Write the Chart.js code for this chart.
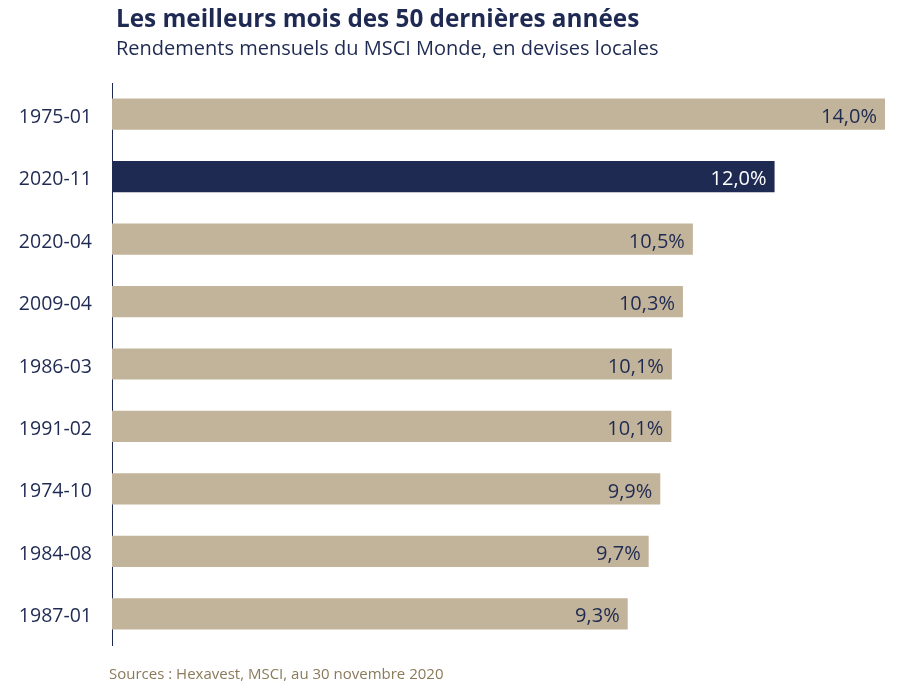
<!DOCTYPE html>
<html><head><meta charset="utf-8">
<script src="https://cdn.jsdelivr.net/npm/chart.js@4"></script>
<style>html,body{margin:0;padding:0;background:#fff}#wrap{width:899px;height:688px;position:relative}</style>
</head><body><div id="wrap"><canvas id="c" width="899" height="688"></canvas></div>
<script>
const categories = ["1975-01","2020-11","2020-04","2009-04","1986-03","1991-02","1974-10","1984-08","1987-01"];
const values = [14.0, 12.0, 10.52, 10.34, 10.14, 10.13, 9.93, 9.72, 9.34];
const barColors = ["#c2b49a","#1f2a52","#c2b49a","#c2b49a","#c2b49a","#c2b49a","#c2b49a","#c2b49a","#c2b49a"];
const labelColors = ["#1f2a52","#ffffff","#1f2a52","#1f2a52","#1f2a52","#1f2a52","#1f2a52","#1f2a52","#1f2a52"];
const titleText = "Les meilleurs mois des 50 dernières années";
const subtitleText = "Rendements mensuels du MSCI Monde, en devises locales";
const sourceText = "Sources : Hexavest, MSCI, au 30 novembre 2020";
const NAVY = "#1f2a52";
const FONT = "'Open Sans', sans-serif";

const deco = {
  id: 'deco',
  afterDraw(chart) {
    const ctx = chart.ctx;
    ctx.save();
    ctx.textBaseline = 'alphabetic';
    ctx.textAlign = 'left';
    ctx.fillStyle = NAVY;
    ctx.font = "bold 24.3px " + FONT;
    ctx.fillText(titleText, 116, 27);
    ctx.font = "20px " + FONT;
    ctx.fillText(subtitleText, 116, 55);
    ctx.fillStyle = "#8b7a5a";
    ctx.font = "15px " + FONT;
    ctx.fillText(sourceText, 109, 679);
    const meta = chart.getDatasetMeta(0);
    ctx.font = "20px " + FONT;
    ctx.textAlign = 'right';
    ctx.textBaseline = 'middle';
    meta.data.forEach((bar, i) => {
      ctx.fillStyle = labelColors[i];
      const txt = values[i].toFixed(1).replace('.', ',') + '%';
      ctx.fillText(txt, bar.x - 8, bar.y + 3);
    });
    ctx.restore();
  }
};

new Chart(document.getElementById('c'), {
  type: 'bar',
  data: {
    labels: categories,
    datasets: [{ data: values, backgroundColor: barColors, categoryPercentage: 1, barPercentage: 0.5, borderWidth: 0 }]
  },
  options: {
    indexAxis: 'y',
    responsive: false,
    animation: false,
    layout: { padding: { top: 83, bottom: 43, left: 0, right: 14 } },
    plugins: { legend: { display: false }, tooltip: { enabled: false } },
    scales: {
      x: { display: false, min: 0, max: 14.0 },
      y: {
        grid: { display: false },
        border: { display: true, color: NAVY, width: 1 },
        ticks: { color: NAVY, font: { family: FONT, size: 19.5 }, padding: 12, labelOffset: 3 },
        afterFit(scale) { scale.width = 112; }
      }
    }
  },
  plugins: [deco]
});
</script></body></html>
